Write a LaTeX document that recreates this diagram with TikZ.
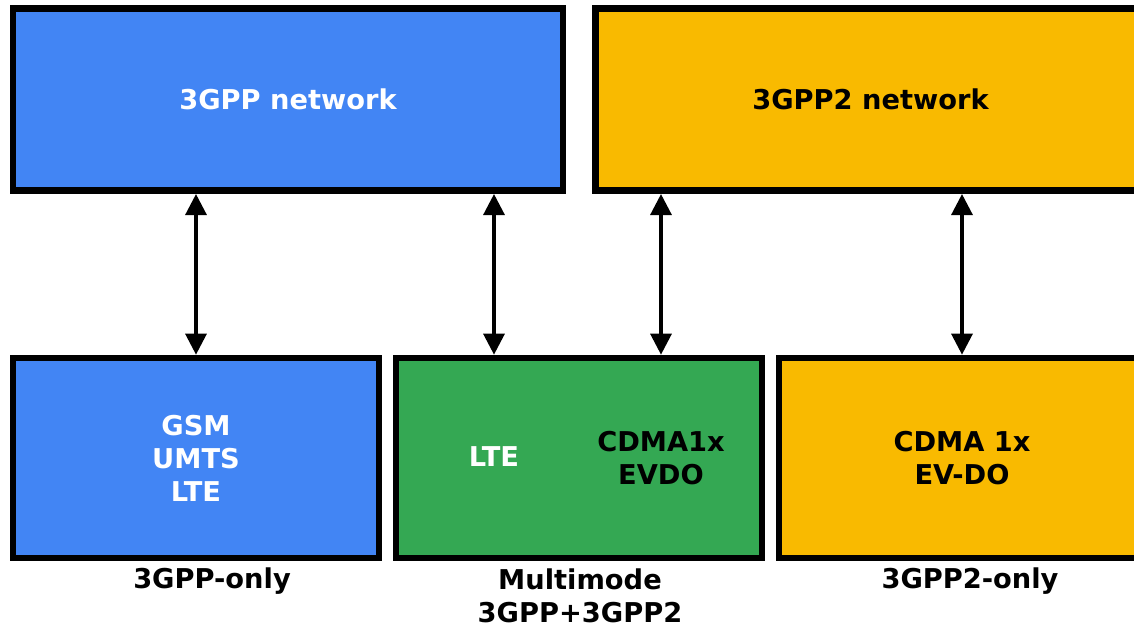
\documentclass[tikz,border=0pt]{standalone}
\usepackage{fontspec}
\setmainfont{DejaVu Sans}
\usetikzlibrary{arrows.meta}
\definecolor{netblue}{HTML}{4285F4}
\definecolor{netgreen}{HTML}{34A853}
\definecolor{netyellow}{HTML}{F9BA00}
\tikzset{
  netbox/.style={draw=black, line width=4.7pt, minimum width=13.75cm, minimum height=4.56cm},
  devbox/.style={draw=black, line width=4.7pt, minimum width=9.15cm, minimum height=5cm},
  lbl/.style={font=\bfseries\fontsize{19.4}{23.5}\selectfont, align=center},
  link/.style={{Triangle[width=15pt,length=15pt]}-{Triangle[width=15pt,length=15pt]}, line width=2.3pt}
}
\begin{document}
\begin{tikzpicture}[x=0.025cm, y=-0.025cm]
  \useasboundingbox (0,0) rectangle (1134,631);
  \clip (0,0) rectangle (1134,631);
  % core networks
  \node[netbox, fill=netblue, lbl, text=white] (net3) at (288,99.5) {3GPP network};
  \node[netbox, fill=netyellow, lbl] (net32) at (870.5,99.5) {3GPP2 network};
  % devices
  \node[devbox, fill=netblue, lbl, text=white] (only3) at (196,458) {GSM\\UMTS\\LTE};
  \node[devbox, fill=netgreen] (multi) at (579,458) {};
  \node[lbl, text=white] (lte) at (494,457) {LTE};
  \node[lbl] (cdma) at (661,458) {CDMA1x\\EVDO};
  \node[devbox, fill=netyellow, lbl] (only32) at (962,458) {CDMA 1x\\EV-DO};
  % captions
  \node[lbl] (cap3) at (212,581) {3GPP-only};
  \node[lbl] (capmm) at (580,596) {Multimode\\3GPP+3GPP2};
  \node[lbl] (cap32) at (970,581) {3GPP2-only};
  % links
  \draw[link] (only3.north) -- (only3.north |- net3.south);
  \draw[link] (lte |- multi.north) -- (lte |- net3.south);
  \draw[link] (cdma |- multi.north) -- (cdma |- net32.south);
  \draw[link] (only32.north) -- (only32.north |- net32.south);
\end{tikzpicture}
\end{document}
